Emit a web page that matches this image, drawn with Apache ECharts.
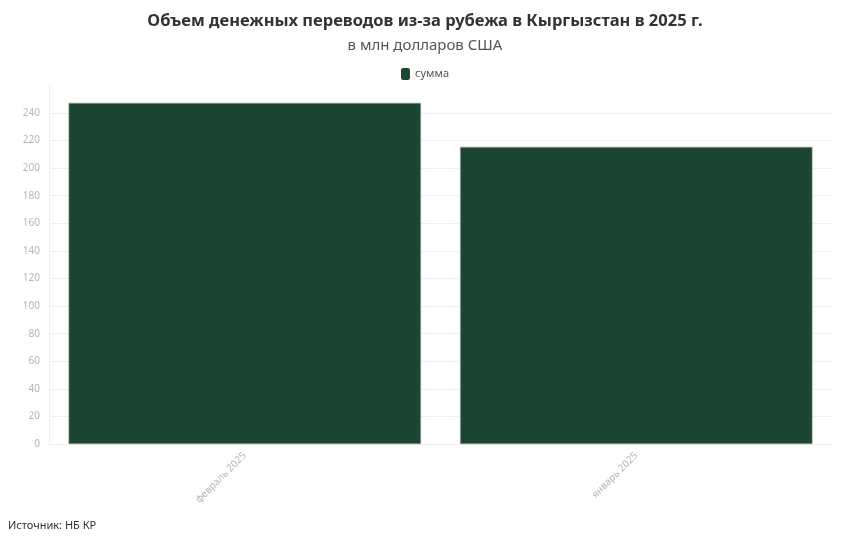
<!DOCTYPE html>
<html>
<head>
<meta charset="utf-8">
<script src="https://cdn.jsdelivr.net/npm/echarts@6/dist/echarts.min.js"></script>
<style>
html,body{margin:0;padding:0;background:#fff;}
#chart{width:850px;height:541px;}
</style>
</head>
<body>
<div id="chart"></div>
<script>
const titleText = 'Объем денежных переводов из-за рубежа в Кыргызстан в 2025 г.';
const subtitleText = 'в млн долларов США';
const sourceText = 'Источник: НБ КР';
const seriesName = 'сумма';
const categories = ['февраль 2025', 'январь 2025'];
const values = [247.3, 215.4];

const FONT = '"Noto Sans", "Open Sans", sans-serif';
const chart = echarts.init(document.getElementById('chart'));
const splitColors = [];
for (let i = 0; i < 13; i++) splitColors.push('#efefef');
splitColors.push('rgba(0,0,0,0)');

chart.setOption({
  backgroundColor: '#ffffff',
  animation: false,
  title: [
    {
      text: titleText,
      left: 'center',
      top: 8,
      textStyle: { fontFamily: FONT, fontSize: 16.5, fontWeight: 'bold', color: '#333333' }
    },
    {
      text: subtitleText,
      left: 'center',
      top: 33,
      textStyle: { fontFamily: FONT, fontSize: 15, fontWeight: 'normal', color: '#555555' }
    },
    {
      text: sourceText,
      left: 3,
      top: 515,
      textStyle: { fontFamily: FONT, fontSize: 11, fontWeight: 'normal', color: '#333333' }
    }
  ],
  legend: {
    top: 63,
    left: 'center',
    itemWidth: 9,
    itemHeight: 12,
    itemGap: 4,
    icon: 'roundRect',
    itemStyle: { borderWidth: 0 },
    textStyle: { fontFamily: FONT, fontSize: 11, color: '#555555' },
    data: [seriesName]
  },
  grid: { left: 49, right: 18, top: 85.4, bottom: 97, containLabel: false },
  xAxis: {
    type: 'category',
    data: categories,
    axisLine: { show: true, lineStyle: { color: '#eeeeee' } },
    axisTick: { show: false },
    axisLabel: { rotate: 45, color: '#b5b5b5', fontFamily: FONT, fontSize: 10, margin: 10 }
  },
  yAxis: {
    type: 'value',
    min: 0,
    max: 260,
    interval: 20,
    axisLine: { show: true, lineStyle: { color: '#f0f0f0' } },
    axisTick: { show: false },
    axisLabel: { color: '#b5b5b5', fontFamily: FONT, fontSize: 10, margin: 9, showMaxLabel: false },
    splitLine: { show: true, lineStyle: { color: splitColors, width: 1 } }
  },
  series: [{
    name: seriesName,
    type: 'bar',
    data: values,
    barCategoryGap: '10%',
    itemStyle: { color: '#1d4632', borderColor: '#7f9c8c', borderWidth: 0.6 }
  }]
});
</script>
</body>
</html>
